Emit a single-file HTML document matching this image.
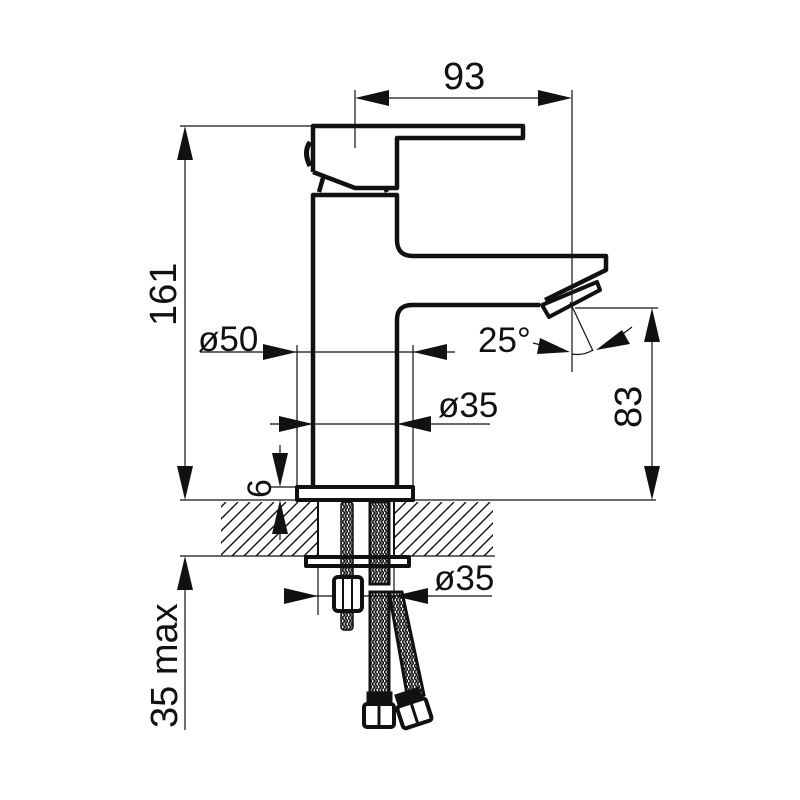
<!DOCTYPE html>
<html><head><meta charset="utf-8"><style>body{margin:0;background:#fff}svg{display:block}</style></head><body>
<svg width="800" height="800" viewBox="0 0 800 800" xmlns="http://www.w3.org/2000/svg" font-family="Liberation Sans, sans-serif">
<defs>
<clipPath id="hc"><rect x="221" y="502" width="97" height="54"/><rect x="395" y="502" width="98" height="54"/></clipPath>
<pattern id="br" width="6" height="6" patternUnits="userSpaceOnUse">
<path d="M0 0 L3 3 L0 6 M3 0 L6 3 L3 6" stroke="#111" stroke-width="1.6" fill="none"/>
</pattern>
</defs>
<g clip-path="url(#hc)" stroke="#111" stroke-width="1.4">
<path d="M160 556 l54 -54 M172 556 l54 -54 M184 556 l54 -54 M196 556 l54 -54 M208 556 l54 -54 M220 556 l54 -54 M232 556 l54 -54 M244 556 l54 -54 M256 556 l54 -54 M268 556 l54 -54 M280 556 l54 -54 M292 556 l54 -54 M304 556 l54 -54 M316 556 l54 -54 M328 556 l54 -54 M340 556 l54 -54 M352 556 l54 -54 M364 556 l54 -54 M376 556 l54 -54 M388 556 l54 -54 M400 556 l54 -54 M412 556 l54 -54 M424 556 l54 -54 M436 556 l54 -54 M448 556 l54 -54 M460 556 l54 -54 M472 556 l54 -54 M484 556 l54 -54"/>
</g>
<g fill="none" stroke="#111">
<g stroke-width="1.2">
<line x1="180" y1="126" x2="312" y2="126"/>
<line x1="180" y1="500" x2="656" y2="500"/>
<line x1="180" y1="556" x2="495" y2="556"/>
<line x1="185" y1="140" x2="185" y2="480"/>
<line x1="185" y1="576" x2="185" y2="730"/>
<line x1="355" y1="90" x2="355" y2="148"/>
<line x1="572" y1="90" x2="572" y2="372"/>
<line x1="370" y1="98" x2="558" y2="98"/>
<line x1="575" y1="308" x2="658" y2="308"/>
<line x1="652" y1="325" x2="652" y2="485"/>
<line x1="200" y1="352" x2="455" y2="352"/>
<line x1="297" y1="345" x2="297" y2="487"/>
<line x1="413" y1="345" x2="413" y2="487"/>
<line x1="270" y1="424" x2="490" y2="424"/>
<line x1="280" y1="445" x2="280" y2="470"/>
<line x1="280" y1="518" x2="280" y2="540"/>
<line x1="270" y1="487" x2="297" y2="487"/>
<line x1="290" y1="596" x2="492" y2="596"/>
<line x1="318" y1="566" x2="318" y2="615"/>
<line x1="394" y1="566" x2="394" y2="600"/>
<line x1="318" y1="502" x2="318" y2="556" stroke-width="2"/>
<line x1="394" y1="502" x2="394" y2="556" stroke-width="2"/>
<line x1="570" y1="302" x2="593" y2="351"/>
<path d="M572 354 Q583 356 593 350"/>
<line x1="533" y1="343" x2="545" y2="346"/>
<line x1="620" y1="336" x2="632" y2="327"/>
</g>
<g stroke-width="4.5" stroke-linejoin="round">
<path d="M313 487 L313 195 L397 195 L397 240 Q397 256 413 256 L606 256 L606 270 L545 300"/>
<path d="M397 487 L397 320 Q397 305 412 305 L540 305"/>
<path d="M542 305 L597 282 L600 290 L549 317 Z" stroke-width="4"/>
<path d="M313 172 L313 126 L523 126 L523 138 L397 138 L397 188 L355 188 L313 172"/>
<path d="M319 192 L323 178 M387 192 L385 187"/>
<path d="M310 142 Q303 152 310 166" stroke-width="5"/>
<rect x="297" y="487" width="116" height="13" stroke-width="4"/>
<rect x="306" y="557" width="103" height="9" stroke-width="4"/>
</g>
<rect x="341" y="502" width="12" height="128" rx="3" fill="url(#br)" stroke="#111" stroke-width="1.5"/>
<rect x="334" y="577" width="28" height="34" rx="4" fill="#fff" stroke-width="4"/>
<line x1="343" y1="578" x2="343" y2="610" stroke-width="2"/>
<line x1="352" y1="578" x2="352" y2="610" stroke-width="2"/>
<rect x="370" y="502" width="19" height="82" fill="url(#br)" stroke-width="3"/>
<path d="M370 592 L370 695 L389 695 L389 592 Z" fill="url(#br)" stroke-width="3"/>
<path d="M389 592 L402 592 L424 695 L408 700 Z" fill="url(#br)" stroke-width="3"/>
<rect x="367" y="692" width="25" height="12" fill="#111"/>
<rect x="364" y="704" width="30" height="23" rx="3" fill="#fff" stroke-width="4"/>
<line x1="379" y1="706" x2="379" y2="725" stroke-width="3"/>
<g transform="rotate(-18 414 712)">
<rect x="401" y="690" width="25" height="12" fill="#111"/>
<rect x="399" y="702" width="30" height="23" rx="3" fill="#fff" stroke-width="4"/>
<line x1="414" y1="704" x2="414" y2="723" stroke-width="3"/>
</g>
</g>
<g fill="#111">
<polygon points="185,126 177,160 193,160"/>
<polygon points="185,500 177,466 193,466"/>
<polygon points="185,556 177,590 193,590"/>
<polygon points="355,98 389,90 389,106"/>
<polygon points="572,98 538,90 538,106"/>
<polygon points="652,308 644,342 660,342"/>
<polygon points="652,500 644,466 660,466"/>
<polygon points="297,352 263,344 263,360"/>
<polygon points="413,352 447,344 447,360"/>
<polygon points="313,424 279,416 279,432"/>
<polygon points="397,424 431,416 431,432"/>
<polygon points="280,487 272,453 288,453"/>
<polygon points="280,500 272,534 288,534"/>
<polygon points="318,596 284,588 284,604"/>
<polygon points="394,596 428,588 428,604"/>
<polygon points="570,352 540,338 537,354"/>
<polygon points="596,350 622,330 630,344"/>
</g>
<g fill="#111" font-size="38">
<text x="443" y="89">93</text>
<text x="198" y="351" font-size="35">ø50</text>
<text x="438" y="417" font-size="35">ø35</text>
<text x="434" y="590" font-size="35">ø35</text>
<text x="478" y="352" font-size="35">25°</text>
<text transform="translate(176 326) rotate(-90)">161</text>
<text transform="translate(641 428) rotate(-90)">83</text>
<text transform="translate(271 498) rotate(-90)" font-size="34">6</text>
<text transform="translate(177 728) rotate(-90)" font-size="38">35 max</text>
</g>
</svg>
</body></html>
